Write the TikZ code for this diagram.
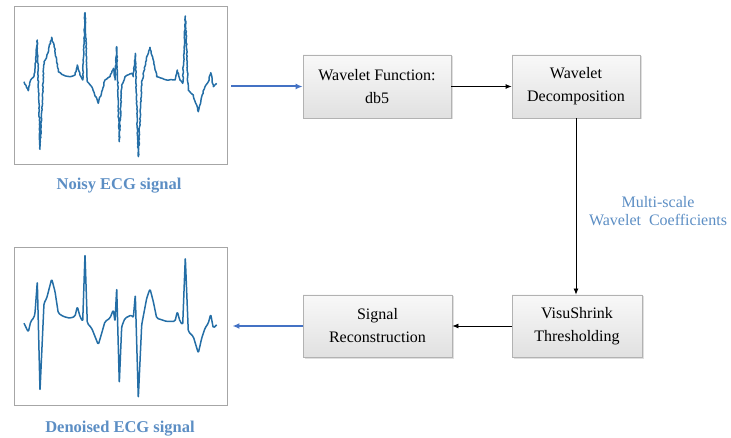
\documentclass[tikz,border=0pt]{standalone}
\usepackage{fontspec}
\setmainfont{Liberation Serif}
\usetikzlibrary{arrows.meta,shadows,decorations.pathmorphing}

\definecolor{ecgblue}{RGB}{36,110,166}
\definecolor{lblblue}{RGB}{92,142,196}
\definecolor{arrblue}{RGB}{68,114,196}

\tikzset{
  ecgframe/.style={draw=gray!70, line width=0.9pt, minimum width=213pt, minimum height=158pt, inner sep=0pt},
  ecgline/.style={ecgblue, line width=1.5pt, line join=round},
  siglabel/.style={text=lblblue, font=\rmfamily\fontsize{16.5}{18}\selectfont\bfseries},
  procbox/.style={draw=gray!60, line width=0.8pt, top color=gray!5, bottom color=gray!24,
    drop shadow={opacity=0.25, shadow xshift=1.5pt, shadow yshift=-1.5pt},
    minimum height=63pt, align=center, inner sep=2pt, font=\rmfamily\fontsize{16}{23}\selectfont},
  blackarrow/.style={-{Latex[length=6pt,width=5pt]}, line width=0.8pt},
  bluearrow/.style={-{Latex[length=7pt,width=6pt]}, arrblue, line width=2pt}
}

\begin{document}
\begin{tikzpicture}[x=1pt, y=-1pt]
  \useasboundingbox (0,0) rectangle (731,438);

  % signals
  \node[ecgframe] (noisy) at (120.5,85) {};
  \node[ecgframe] (denoised) at (120.5,326.5) {};
  \node[siglabel] (noisylbl) at (119,186) {Noisy ECG signal};
  \node[siglabel] (denoisedlbl) at (120,429) {Denoised ECG signal};

  \draw[ecgline, decorate, decoration={random steps, segment length=2pt, amplitude=0.45pt}]
    (24,81.7) -- (28.3,90.7) -- (30.7,80) -- (34,76) -- (35,71.7) -- (37.3,40) -- (40,149.3)
    -- (44,61.7) -- (46.7,56.7) -- (51.7,37.3) -- (55,50) -- (58.3,71.7) -- (63.3,75)
    -- (70,76.7) -- (75,75) -- (77.3,65) -- (80,75) -- (82.7,80) -- (85,12.7) -- (87.3,81.7)
    -- (91.7,86.7) -- (98.3,103.3) -- (101.7,91.7) -- (105,80) -- (110,76.7) -- (113.3,68.3)
    -- (115,80) -- (116.7,46.7) -- (119.3,141.7) -- (121.7,85) -- (125,76.7) -- (131.7,73.3)
    -- (133.3,76.7) -- (135.3,53.3) -- (138.3,156.7) -- (141.7,83.3) -- (146.7,56.7)
    -- (150,47.3) -- (153.3,60) -- (156.7,76.7) -- (166.7,80) -- (175,80) -- (177.3,70)
    -- (180,80) -- (182.7,83.3) -- (185.3,16) -- (188.3,90) -- (193.3,95) -- (198.3,111.7)
    -- (201.7,96.7) -- (205,86.7) -- (208.3,81.7) -- (210.7,72.7) -- (213.3,86.7) -- (216.7,83.3);

  \begin{scope}[shift={(0,241.5)}]
    \draw[ecgline, rounded corners=1.5pt]
      (24,81.7) -- (28.3,90.7) -- (30.7,80) -- (34,76) -- (35,71.7) -- (37.3,40) -- (40,149.3)
      -- (44,61.7) -- (46.7,56.7) -- (51.7,37.3) -- (55,50) -- (58.3,71.7) -- (63.3,75)
      -- (70,76.7) -- (75,75) -- (77.3,65) -- (80,75) -- (82.7,80) -- (85,12.7) -- (87.3,81.7)
      -- (91.7,86.7) -- (98.3,103.3) -- (101.7,91.7) -- (105,80) -- (110,76.7) -- (113.3,68.3)
      -- (115,80) -- (116.7,46.7) -- (119.3,141.7) -- (121.7,85) -- (125,76.7) -- (131.7,73.3)
      -- (133.3,76.7) -- (135.3,53.3) -- (138.3,156.7) -- (141.7,83.3) -- (146.7,56.7)
      -- (150,47.3) -- (153.3,60) -- (156.7,76.7) -- (166.7,80) -- (175,80) -- (177.3,70)
      -- (180,80) -- (182.7,83.3) -- (185.3,16) -- (188.3,90) -- (193.3,95) -- (198.3,111.7)
      -- (201.7,96.7) -- (205,86.7) -- (208.3,81.7) -- (210.7,72.7) -- (213.3,86.7) -- (216.7,83.3);
  \end{scope}

  % processing blocks
  \node[procbox, minimum width=148pt] (wfunc) at (377,86.5) {Wavelet Function:\\db5};
  \node[procbox, minimum width=128pt] (wdec) at (576,86.5) {Wavelet\\Decomposition};
  \node[procbox, minimum width=130pt, minimum height=62pt] (visu) at (577,326) {VisuShrink\\Thresholding};
  \node[procbox, minimum width=149pt, minimum height=62pt] (recon) at (377.5,326) {Signal\\Reconstruction};

  \node[text=lblblue, align=center, font=\rmfamily\fontsize{16}{18.5}\selectfont] (coeflbl) at (658,211)
    {Multi-scale\\Wavelet\ \ Coefficients};

  % connectors
  \draw[bluearrow] ([xshift=4pt]wfunc.west -| noisy.east) -- (wfunc.west);
  \draw[blackarrow] (wfunc) -- (wdec);
  \draw[blackarrow] (wdec) -- (wdec |- visu.north);
  \draw[blackarrow] (visu) -- (recon);
  \draw[bluearrow] (recon.west) -- ([xshift=5pt]recon.west -| denoised.east);
\end{tikzpicture}
\end{document}
